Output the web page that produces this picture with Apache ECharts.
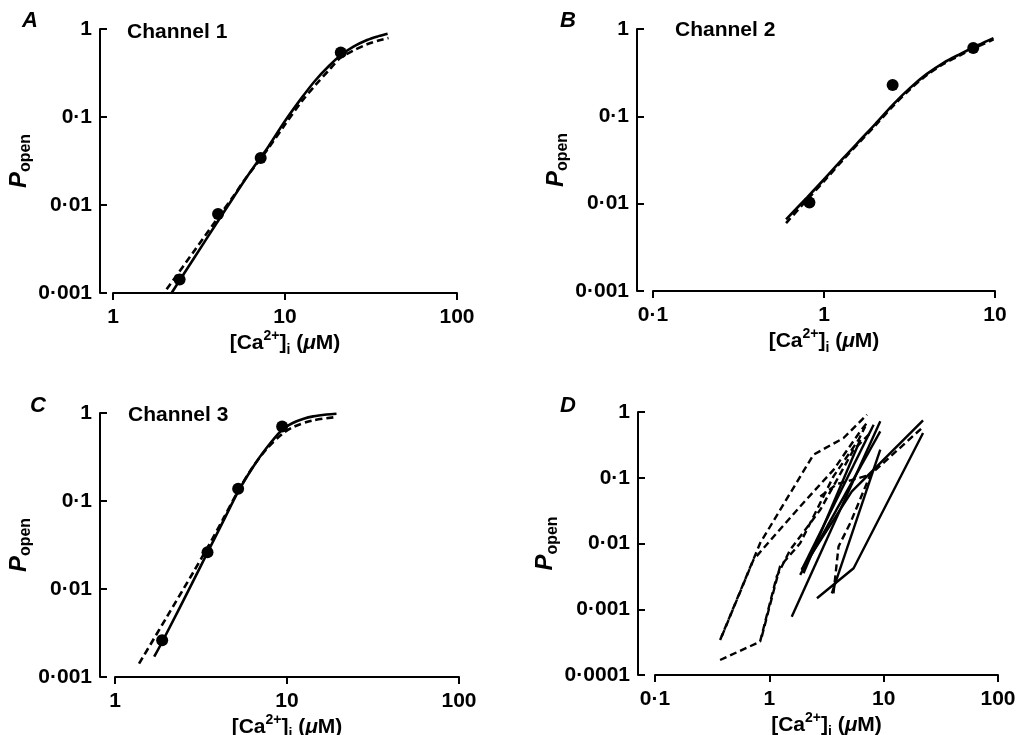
<!DOCTYPE html>
<html>
<head>
<meta charset="utf-8">
<script src="https://cdn.jsdelivr.net/npm/echarts@6/dist/echarts.min.js"></script>
<style>
  html, body { margin: 0; padding: 0; background: #fff; }
  #chart { width: 1017px; height: 735px; }
</style>
</head>
<body>
<div id="chart"></div>
<script>
// Channel 1 (panel A) - [Ca] in uM, Popen
const ch1Points = [[2.44, 0.00142], [4.08, 0.0079], [7.22, 0.0342], [21.1, 0.542]]
const ch1Solid = [[2.19, 0.001], [3, 0.0026], [4, 0.0062], [5, 0.0121], [6, 0.0208], [7, 0.032], [8, 0.046], [10, 0.09], [12.5, 0.165], [15, 0.26], [18, 0.38], [21, 0.5], [25, 0.63], [30, 0.75], [35, 0.83], [39.5, 0.885]]
const ch1Dashed = [[2.05, 0.0011], [3, 0.0031], [4, 0.0068], [5, 0.0125], [6, 0.021], [7, 0.031], [8, 0.044], [10, 0.082], [12.5, 0.15], [15, 0.23], [18, 0.34], [21, 0.47], [25, 0.57], [30, 0.67], [35, 0.74], [40, 0.79]]

// Channel 2 (panel B)
const ch2Points = [[0.822, 0.0103], [2.52, 0.228], [7.46, 0.605]]
const ch2Solid = [[0.6, 0.0066], [0.8, 0.0119], [1.04, 0.0206], [1.3, 0.0334], [1.63, 0.0536], [2, 0.082], [2.54, 0.137], [3.2, 0.213], [3.98, 0.304], [5, 0.41], [6.24, 0.515], [8, 0.655], [9.8, 0.785]]
const ch2Dashed = [[0.6, 0.006], [0.8, 0.0112], [1.04, 0.0197], [1.3, 0.0322], [1.63, 0.0518], [2, 0.079], [2.54, 0.132], [3.2, 0.206], [3.98, 0.295], [5, 0.398], [6.24, 0.5], [8, 0.635], [9.8, 0.76]]

// Channel 3 (panel C)
const ch3Points = [[1.88, 0.00262], [3.45, 0.0261], [5.2, 0.138], [9.37, 0.704]]
const ch3Solid = [[1.69, 0.0017], [1.88, 0.0025], [2.3, 0.0054], [2.8, 0.0115], [3.45, 0.026], [4.26, 0.059], [5.2, 0.128], [6.36, 0.245], [7.6, 0.4], [9.4, 0.65], [10.8, 0.77], [12.5, 0.86], [14.2, 0.915], [17, 0.96], [19.4, 0.98]]
const ch3Dashed = [[1.38, 0.00142], [2, 0.0048], [2.83, 0.0151], [3.5, 0.031], [4.3, 0.065], [5.2, 0.13], [6.3, 0.24], [7.6, 0.39], [9.4, 0.58], [11, 0.7], [14, 0.82], [19.4, 0.9]]

// Panel D - all channels, solid and dashed traces
const dSolid1 = [[1.57, 0.00077], [9.34, 0.721]]
const dSolid2 = [[1.86, 0.00333], [9.34, 0.508]]
const dSolid3 = [[1.92, 0.00397], [8.17, 0.641]]
const dSolid4 = [[1.99, 0.00353], [6.24, 0.379]]
const dSolid5 = [[2.61, 0.00147], [5.46, 0.00421], [22.1, 0.479]]
const dSolid6 = [[3.52, 0.00175], [9.34, 0.267]]
const dSolid7 = [[1.92, 0.004], [5.27, 0.0619], [22.1, 0.747]]
const dDashed1 = [[0.371, 0.000341], [0.83, 0.0101], [2.43, 0.224], [4.46, 0.402], [7.14, 0.91]]
const dDashed2 = [[0.383, 0.000384], [0.726, 0.00564], [1.16, 0.0144], [1.86, 0.0366], [3.64, 0.132], [6.24, 0.508], [7.14, 0.68]]
const dDashed3 = [[0.371, 0.000169], [0.83, 0.000322], [1.16, 0.00314], [1.52, 0.008], [2.79, 0.0326], [5.46, 0.267], [7.64, 0.479]]
const dDashed4 = [[0.859, 0.000384], [1.24, 0.00447], [1.86, 0.0101], [3.64, 0.105], [6.04, 0.379], [6.9, 0.605]]
const dDashed5 = [[3.64, 0.00175], [4.03, 0.009], [5.1, 0.0204], [7.64, 0.111], [21.6, 0.571]]
const dDashed6 = [[2.79, 0.052], [3.9, 0.08], [7.64, 0.111]]

const dSolidLines = [dSolid1, dSolid2, dSolid3, dSolid4, dSolid5, dSolid6, dSolid7]
const dDashedLines = [dDashed1, dDashed2, dDashed3, dDashed4, dDashed5, dDashed6]

const FONT = 'Liberation Sans, Arial, sans-serif'

// 0.01 -> 0·01 like the print
const fmt = (v) => String(+v.toPrecision(4)).replace('.', '\u00b7')

const xName = '[Ca{sup|2+}]{sub|i} ({mu|\u03bc}M)'
const yName = '{p|P}{sub|open}'

function xAxisFor(gridIndex, min, max) {
  return {
    type: 'log', logBase: 10, gridIndex, min, max,
    axisLine: { lineStyle: { color: '#000', width: 2 } },
    axisTick: { length: 7, lineStyle: { color: '#000', width: 2 } },
    axisLabel: { color: '#000', fontSize: 21, fontWeight: 'bold', fontFamily: FONT, margin: 14, formatter: fmt },
    splitLine: { show: false },
    name: xName, nameLocation: 'middle', nameGap: 36,
    nameTextStyle: {
      color: '#000', fontSize: 21, fontWeight: 'bold', fontFamily: FONT, lineHeight: 28,
      rich: {
        sup: { fontSize: 14, fontWeight: 'bold', fontFamily: FONT, verticalAlign: 'top', lineHeight: 28 },
        sub: { fontSize: 14, fontWeight: 'bold', fontFamily: FONT, verticalAlign: 'bottom', lineHeight: 28 },
        mu: { fontSize: 21, fontWeight: 'bold', fontFamily: FONT, fontStyle: 'italic', lineHeight: 28 },
      },
    },
  }
}

function yAxisFor(gridIndex, min, max, offset) {
  return {
    type: 'log', logBase: 10, gridIndex, min, max, offset,
    axisLine: { lineStyle: { color: '#000', width: 2 } },
    axisTick: { inside: true, length: 7, lineStyle: { color: '#000', width: 2 } },
    axisLabel: { color: '#000', fontSize: 21, fontWeight: 'bold', fontFamily: FONT, margin: 8, formatter: fmt },
    splitLine: { show: false },
    name: yName, nameLocation: 'middle', nameGap: 66,
    nameTextStyle: {
      color: '#000', fontFamily: FONT,
      rich: {
        p: { fontSize: 24, fontStyle: 'italic', fontWeight: 'bold', fontFamily: FONT, lineHeight: 30, verticalAlign: 'middle' },
        sub: { fontSize: 16, fontWeight: 'bold', fontFamily: FONT, lineHeight: 30, verticalAlign: 'bottom' },
      },
    },
  }
}

function curve(idx, data, dashed) {
  return {
    type: 'line', xAxisIndex: idx, yAxisIndex: idx, data,
    smooth: 0.3, symbol: 'none', silent: true,
    lineStyle: { color: '#000', width: 2.6, type: dashed ? [7, 4] : 'solid' },
  }
}

function trace(idx, data, dashed) {
  return {
    type: 'line', xAxisIndex: idx, yAxisIndex: idx, data,
    symbol: 'none', silent: true,
    lineStyle: { color: '#000', width: 2.4, type: dashed ? [7, 4] : 'solid' },
  }
}

function dots(idx, data) {
  return {
    type: 'scatter', xAxisIndex: idx, yAxisIndex: idx, data,
    symbol: 'circle', symbolSize: 12, itemStyle: { color: '#000', opacity: 1 },
  }
}

function label(text, x, y, font) {
  return {
    type: 'text', x, y,
    style: { text, fill: '#000', font, align: 'left', verticalAlign: 'middle' },
  }
}

const chart = echarts.init(document.getElementById('chart'))

const series = [
  curve(0, ch1Solid, false), curve(0, ch1Dashed, true), dots(0, ch1Points),
  curve(1, ch2Solid, false), curve(1, ch2Dashed, true), dots(1, ch2Points),
  curve(2, ch3Solid, false), curve(2, ch3Dashed, true), dots(2, ch3Points),
]
dSolidLines.forEach((l) => series.push(trace(3, l, false)))
dDashedLines.forEach((l) => series.push(trace(3, l, true)))

const letterFont = 'italic bold 22px ' + FONT
const channelFont = 'bold 21px ' + FONT

// fixed panel boxes, no auto shrinking to fit the labels
const panel = (left, top, width, height) => ({ left, top, width, height, outerBoundsMode: 'none', containLabel: false })

chart.setOption({
  animation: false,
  backgroundColor: '#fff',
  grid: [
    panel(113, 29, 344, 264),
    panel(653, 29, 342, 262),
    panel(115, 413, 344, 264),
    panel(655, 412, 343, 263),
  ],
  xAxis: [
    xAxisFor(0, 1, 100),
    xAxisFor(1, 0.1, 10),
    xAxisFor(2, 1, 100),
    xAxisFor(3, 0.1, 100),
  ],
  yAxis: [
    yAxisFor(0, 0.001, 1, 13),
    yAxisFor(1, 0.001, 1, 16),
    yAxisFor(2, 0.001, 1, 15),
    yAxisFor(3, 0.0001, 1, 17),
  ],
  graphic: [
    label('A', 22, 21, letterFont),
    label('B', 560, 21, letterFont),
    label('C', 30, 406, letterFont),
    label('D', 560, 406, letterFont),
    label('Channel 1', 127, 32, channelFont),
    label('Channel 2', 675, 30, channelFont),
    label('Channel 3', 128, 415, channelFont),
  ],
  series,
})
</script>
</body>
</html>
